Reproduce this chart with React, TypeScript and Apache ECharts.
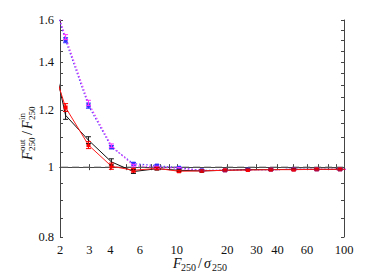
import React, { useEffect, useRef } from "react";
import * as echarts from "echarts";

const xValues = [1.58, 2.16, 2.96, 4.06, 5.5, 7.6, 10.3, 14.1, 19.4, 26.6, 36.5, 50, 68.7, 94.6, 130];
const blackY = [1.64, 1.18, 1.09, 1.017, 0.986, 0.995, 0.99, 0.988, 0.99, 0.992, 0.992, 0.993, 0.993, 0.993, 0.993];
const blackErr = [0.015, 0.015, 0.012, 0.01, 0.006, 0.004, 0.003, 0.003, 0.002, 0.002, 0.002, 0.002, 0.002, 0.002, 0.002];
const redY = [1.52, 1.21, 1.073, 1.003, 0.99, 0.996, 0.987, 0.988, 0.99, 0.991, 0.992, 0.992, 0.993, 0.993, 0.993];
const redErr = [0.015, 0.015, 0.012, 0.01, 0.006, 0.004, 0.003, 0.003, 0.002, 0.002, 0.002, 0.002, 0.002, 0.002, 0.002];
const blueY = [1.9, 1.5, 1.217, 1.066, 1.011, 1.005, 0.998, 0.99, 0.99, 0.992, 0.992, 0.993, 0.993, 0.993, 0.993];
const blueErr = [0.015, 0.012, 0.01, 0.006, 0.004, 0.003, 0.003, 0.002, 0.002, 0.002, 0.002, 0.002, 0.002, 0.002, 0.002];
const magentaY = [1.9, 1.515, 1.228, 1.071, 1.005, 1.0, 0.996, 0.989, 0.99, 0.992, 0.992, 0.993, 0.993, 0.993, 0.993];
const magentaErr = [0.015, 0.012, 0.01, 0.006, 0.004, 0.003, 0.003, 0.002, 0.002, 0.002, 0.002, 0.002, 0.002, 0.002, 0.002];
const refLineX = [1.5, 150];
const refLineY = [1, 1];

const xTickLabels = [2, 3, 4, 6, 10, 20, 30, 40, 60, 100];
const xTicks = [2, 3, 4, 5, 6, 7, 8, 9, 10, 20, 30, 40, 50, 60, 70, 80, 90, 100];
const yTickLabels = [0.8, 1, 1.2, 1.4, 1.6];
const yTicks = [0.8, 0.85, 0.9, 0.95, 1, 1.05, 1.1, 1.15, 1.2, 1.25, 1.3, 1.35, 1.4, 1.45, 1.5, 1.55, 1.6];

const L = Math.log10;
const FONT = "Liberation Serif";

function lineData(ys: number[]) {
  return xValues.map((x, i) => [L(x), L(ys[i])]);
}
function errData(ys: number[], es: number[]) {
  return xValues
    .map((x, i) => [L(x), L(ys[i] - es[i]), L(ys[i] + es[i])])
    .filter((d, i) => xValues[i] >= 2 && xValues[i] <= 100);
}
function errSeries(ys: number[], es: number[], color: string) {
  return {
    type: "custom",
    clip: true,
    z: 5,
    data: errData(ys, es),
    encode: { x: 0, y: [1, 2] },
    renderItem: (params: any, api: any) => {
      const x = api.value(0);
      const p1 = api.coord([x, api.value(1)]);
      const p2 = api.coord([x, api.value(2)]);
      const w = 2.5;
      const st = { stroke: color, lineWidth: 1 };
      return {
        type: "group",
        children: [
          { type: "line", shape: { x1: p1[0], y1: p1[1], x2: p2[0], y2: p2[1] }, style: st },
          { type: "line", shape: { x1: p1[0] - w, y1: p1[1], x2: p1[0] + w, y2: p1[1] }, style: st },
          { type: "line", shape: { x1: p2[0] - w, y1: p2[1], x2: p2[0] + w, y2: p2[1] }, style: st },
        ],
      };
    },
  };
}

export default function App() {
  const ref = useRef<HTMLDivElement>(null);
  useEffect(() => {
    const chart = echarts.init(ref.current!, undefined, { renderer: "svg" });
    const axisLine = { show: true, lineStyle: { color: "#444", width: 1 } };
    const xMin = L(2), xMax = L(100), yMin = L(0.8), yMax = L(1.6);
    const xFmt = (v: number) => String(Math.round(Math.pow(10, v)));
    const yFmt = (v: number) => String(parseFloat(Math.pow(10, v).toFixed(2)));
    const lbl = { fontFamily: FONT, fontSize: 12.5, color: "#111" };
    const tick = (vals: number[]) => ({ show: true, inside: true, length: 3, customValues: vals.map(L), lineStyle: { color: "#444" } });
    chart.setOption({
      animation: false,
      grid: { left: 60, right: 46, top: 20, bottom: 39, containLabel: false },
      xAxis: [
        {
          type: "value", position: "bottom", min: xMin, max: xMax,
          axisLine, splitLine: { show: false }, axisTick: tick(xTicks),
          axisLabel: { ...lbl, margin: 6, customValues: xTickLabels.map(L), formatter: xFmt },
        },
        {
          type: "value", position: "top", min: xMin, max: xMax,
          axisLine, splitLine: { show: false }, axisTick: tick(xTicks),
          axisLabel: { show: false },
        },
      ],
      yAxis: [
        {
          type: "value", position: "left", min: yMin, max: yMax,
          axisLine, splitLine: { show: false }, axisTick: tick(yTicks),
          axisLabel: { ...lbl, margin: 6, customValues: yTickLabels.map(L), formatter: yFmt },
        },
        {
          type: "value", position: "right", min: yMin, max: yMax,
          axisLine, splitLine: { show: false }, axisTick: tick(yTicks),
          axisLabel: { show: false },
        },
      ],
      series: [
        {
          type: "line", data: refLineX.map((x, i) => [L(x), L(refLineY[i])]), symbol: "none",
          lineStyle: { color: "#666", width: 1, type: [7, 4] }, z: 1,
        },
        {
          type: "line", data: lineData(blueY), symbol: "rect", symbolSize: 4,
          itemStyle: { color: "#3030ff" }, lineStyle: { color: "#5a3cff", width: 1.2, type: [1.5, 2] }, z: 3,
        },
        {
          type: "line", data: lineData(magentaY), symbol: "none",
          lineStyle: { color: "#e040ff", width: 1.2, type: [1.5, 2] }, z: 3,
        },
        {
          type: "line", data: lineData(blackY), symbol: "none",
          lineStyle: { color: "#111", width: 1 }, z: 3,
        },
        {
          type: "line", data: lineData(redY), symbol: "rect", symbolSize: 4,
          itemStyle: { color: "#ff0000" }, lineStyle: { color: "#ff1a1a", width: 1 }, z: 4,
        },
        errSeries(blueY, blueErr, "#3030ff"),
        errSeries(magentaY, magentaErr, "#ff30ff"),
        errSeries(blackY, blackErr, "#111"),
        errSeries(redY, redErr, "#ff0000"),
      ],
      graphic: [
        {
          type: "group", x: 173, y: 256,
          children: [
            { type: "text", x: 0, y: 0, style: { text: "F", font: `italic 14px ${FONT}`, fill: "#111" } },
            { type: "text", x: 8, y: 6, style: { text: "250", font: `10px ${FONT}`, fill: "#111" } },
            { type: "text", x: 25, y: 0, style: { text: "/", font: `14px ${FONT}`, fill: "#111" } },
            { type: "text", x: 31, y: 0, style: { text: "σ", font: `italic 14px ${FONT}`, fill: "#111" } },
            { type: "text", x: 39, y: 6, style: { text: "250", font: `10px ${FONT}`, fill: "#111" } },
          ],
        },
        {
          type: "group", x: 20, y: 160, rotation: Math.PI / 2,
          children: [
            { type: "text", x: 0, y: 0, style: { text: "F", font: `italic 14px ${FONT}`, fill: "#111" } },
            { type: "text", x: 9, y: -3, style: { text: "out", font: `9px ${FONT}`, fill: "#111" } },
            { type: "text", x: 9, y: 7, style: { text: "250", font: `9px ${FONT}`, fill: "#111" } },
            { type: "text", x: 25, y: 0, style: { text: "/", font: `14px ${FONT}`, fill: "#111" } },
            { type: "text", x: 31, y: 0, style: { text: "F", font: `italic 14px ${FONT}`, fill: "#111" } },
            { type: "text", x: 40, y: -3, style: { text: "in", font: `9px ${FONT}`, fill: "#111" } },
            { type: "text", x: 40, y: 7, style: { text: "250", font: `9px ${FONT}`, fill: "#111" } },
          ],
        },
      ],
    });
    return () => chart.dispose();
  }, []);
  return <div ref={ref} style={{ position: "absolute", left: 0, top: 0, width: 390, height: 276 }} />;
}
